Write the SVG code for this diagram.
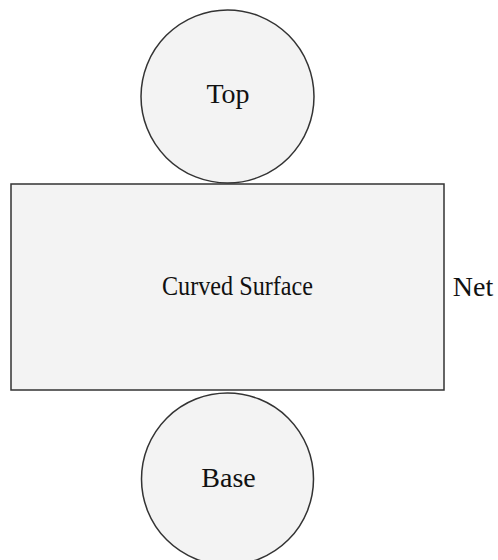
<svg xmlns="http://www.w3.org/2000/svg" width="498" height="560" viewBox="0 0 498 560">
<style>
.shape{fill:#f3f3f3;stroke:#333;stroke-width:1.5}
.lbl{font-family:"Liberation Serif","Times New Roman",serif;font-size:28px;fill:#111;text-anchor:middle}
</style>
<rect width="498" height="560" fill="#fff"/>
<g id="connectors"></g>
<g id="top">
<circle class="shape" cx="227.5" cy="96.5" r="86.5"/>
<text class="lbl" x="228" y="103">Top</text>
</g>
<g id="curved-surface">
<rect class="shape" x="11" y="184" width="433" height="206"/>
<text class="lbl" x="237.5" y="295" textLength="151" lengthAdjust="spacingAndGlyphs">Curved Surface</text>
</g>
<g id="base">
<circle class="shape" cx="227.5" cy="479" r="86"/>
<text class="lbl" x="228.5" y="487">Base</text>
</g>
<g id="net">
<text class="lbl" x="473" y="296">Net</text>
</g>
</svg>
